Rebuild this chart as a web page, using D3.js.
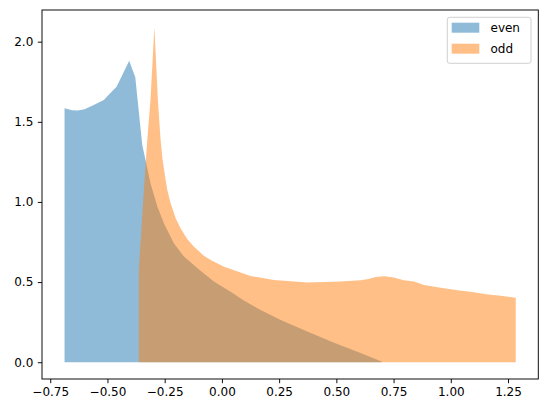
<!DOCTYPE html>
<html>
<head>
<meta charset="utf-8">
<script src="https://cdn.jsdelivr.net/npm/d3@7"></script>
<style>
  html, body { margin: 0; padding: 0; background: #fff; }
  svg { display: block; }
  text { font-family: "DejaVu Sans", sans-serif; }
</style>
</head>
<body>
<script>
// ---- data ----
const evenX = [-0.6875, -0.655, -0.629, -0.600, -0.560, -0.516, -0.486, -0.460, -0.405, -0.3785, -0.348, -0.329, -0.312, -0.282, -0.2535, -0.210, -0.166, -0.100, -0.035, 0.038, 0.096, 0.169, 0.257, 0.373, 0.490, 0.592, 0.698];
const evenY = [1.585, 1.572, 1.570, 1.578, 1.605, 1.636, 1.682, 1.719, 1.881, 1.778, 1.356, 1.231, 1.117, 0.971, 0.867, 0.742, 0.659, 0.578, 0.503, 0.440, 0.385, 0.326, 0.264, 0.191, 0.122, 0.066, 0.004];
const oddX = [-0.363, -0.355, -0.341, -0.326, -0.312, -0.295, -0.2797, -0.268, -0.260, -0.246, -0.2386, -0.224, -0.2024, -0.181, -0.151, -0.122, -0.079, -0.049, 0.009, 0.125, 0.227, 0.373, 0.519, 0.606, 0.640, 0.672, 0.710, 0.750, 0.795, 0.839, 0.883, 0.956, 1.029, 1.101, 1.1525, 1.218, 1.2837];
const oddY = [0.576, 0.763, 1.075, 1.387, 1.636, 2.090, 1.636, 1.390, 1.273, 1.137, 1.075, 0.992, 0.900, 0.836, 0.768, 0.721, 0.665, 0.638, 0.596, 0.538, 0.513, 0.497, 0.503, 0.512, 0.520, 0.532, 0.536, 0.528, 0.512, 0.503, 0.482, 0.465, 0.449, 0.437, 0.424, 0.415, 0.403];
const seriesNames = ["even", "odd"];
const seriesColors = ["#1f77b4", "#ff7f0e"];
const xTicks = [-0.75, -0.5, -0.25, 0, 0.25, 0.5, 0.75, 1.0, 1.25];
const yTicks = [0, 0.5, 1.0, 1.5, 2.0];

// ---- layout ----
const W = 547, H = 413;
const m = { left: 42, right: 8.7, top: 10, bottom: 34 };
const svg = d3.select("body").append("svg").attr("width", W).attr("height", H);

const x = d3.scaleLinear().domain([-0.786, 1.3823]).range([m.left, W - m.right]);
const y = d3.scaleLinear().domain([-0.1047, 2.1977]).range([H - m.bottom, m.top]);

const series = [
  { name: seriesNames[0], color: seriesColors[0], pts: evenX.map((v, i) => [v, evenY[i]]) },
  { name: seriesNames[1], color: seriesColors[1], pts: oddX.map((v, i) => [v, oddY[i]]) }
];

const area = d3.area().x(d => x(d[0])).y0(y(0)).y1(d => y(d[1])).curve(d3.curveLinear);

svg.append("g").selectAll("path").data(series).join("path")
  .attr("d", d => area(d.pts))
  .attr("fill", d => d.color)
  .attr("fill-opacity", 0.5);

const fmtMinus = s => s.replace("-", "\u2212");

// axes
const xAxis = d3.axisBottom(x).tickValues(xTicks).tickSize(4.2).tickPadding(4.5)
  .tickFormat(d => fmtMinus(d3.format(".2f")(d)));
const yAxis = d3.axisLeft(y).tickValues(yTicks).tickSize(4.2).tickPadding(4.5)
  .tickFormat(d => fmtMinus(d3.format(".1f")(d)));

const gx = svg.append("g").attr("transform", `translate(0,${H - m.bottom})`).call(xAxis);
const gy = svg.append("g").attr("transform", `translate(${m.left},0)`).call(yAxis);
[gx, gy].forEach(g => {
  g.select(".domain").remove();
  g.selectAll(".tick line").attr("stroke", "#000").attr("stroke-width", 0.95);
  g.selectAll(".tick text").attr("fill", "#000").style("font-size", "12px").style("font-family", "DejaVu Sans, sans-serif");
});

// frame
svg.append("rect")
  .attr("x", m.left).attr("y", m.top)
  .attr("width", W - m.right - m.left).attr("height", H - m.bottom - m.top)
  .attr("fill", "none").attr("stroke", "#000").attr("stroke-width", 0.95);

// legend
const lg = svg.append("g");
lg.append("rect").attr("x", 447.3).attr("y", 17.3).attr("width", 83.7).attr("height", 46)
  .attr("rx", 2.4).attr("fill", "#fff").attr("fill-opacity", 0.8)
  .attr("stroke", "#cccccc").attr("stroke-width", 0.95);
series.forEach((s, i) => {
  const cy = 27.7 + i * 21;
  lg.append("rect").attr("x", 451.7).attr("y", cy - 5).attr("width", 27.6).attr("height", 10)
    .attr("fill", s.color).attr("fill-opacity", 0.5);
  lg.append("text").attr("x", 490.5).attr("y", cy).attr("dy", "0.35em")
    .style("font-size", "12px").attr("fill", "#000").text(s.name);
});
</script>
</body>
</html>
